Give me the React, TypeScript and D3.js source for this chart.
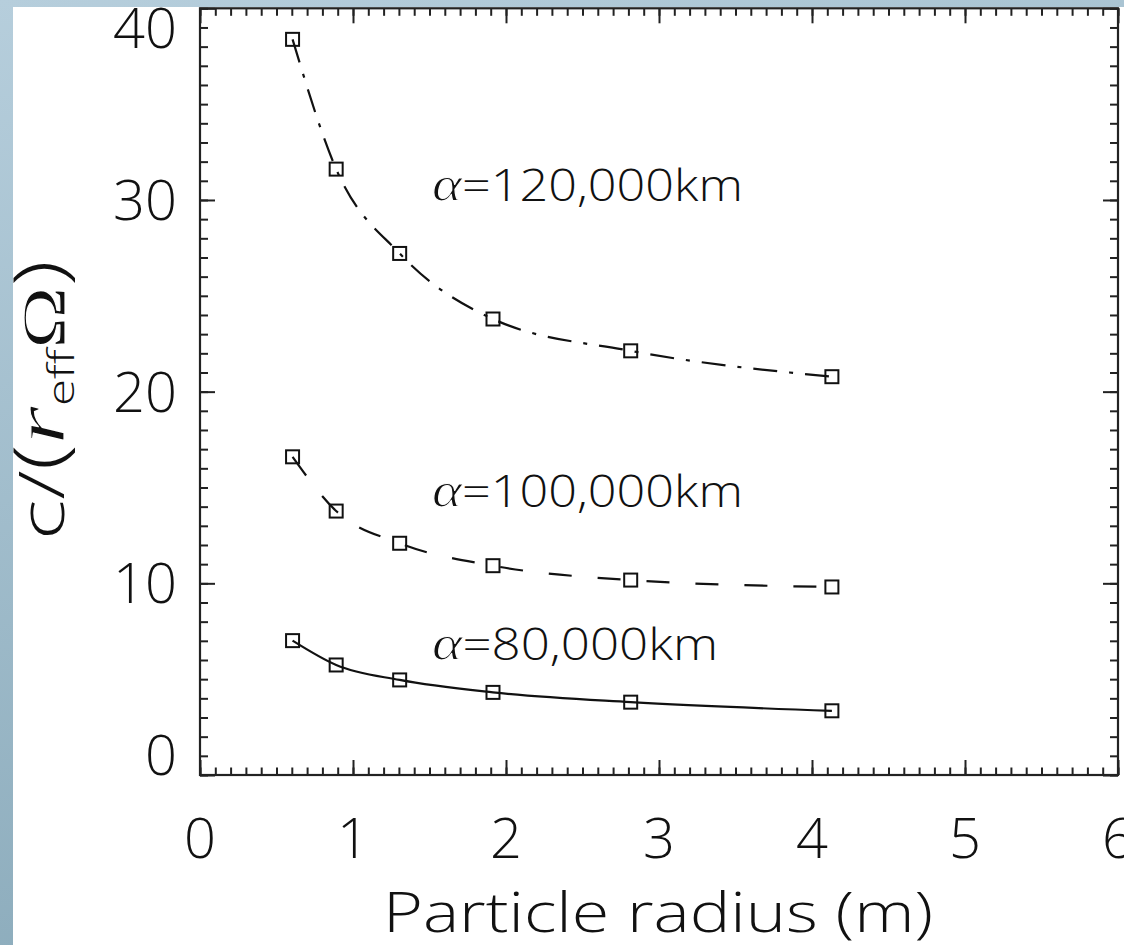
import React, { useEffect, useRef } from "react";
import * as d3 from "d3";

const radius = [0.605, 0.89, 1.305, 1.915, 2.815, 4.13];
const c120 = [38.38, 31.61, 27.21, 23.79, 22.13, 20.78];
const c100 = [16.6, 13.77, 12.09, 10.92, 10.17, 9.81];
const c80 = [7.01, 5.74, 4.96, 4.31, 3.8, 3.35];
const seriesLabels = ["120,000km", "100,000km", "80,000km"];
const xTicks = [0, 1, 2, 3, 4, 5, 6];
const yTicks = [0, 10, 20, 30, 40];

const W = 1124;
const H = 945;

export default function App() {
  const ref = useRef<SVGSVGElement>(null);

  useEffect(() => {
    const svg = d3.select(ref.current);
    svg.selectAll("*").remove();

    const x = d3.scaleLinear().domain([0, 6]).range([200, 1118]);
    const y = d3.scaleLinear().domain([0, 40]).range([775, 8.3]);

    const defs = svg.append("defs");
    const g = defs
      .append("linearGradient")
      .attr("id", "bg")
      .attr("x1", 0)
      .attr("y1", 0)
      .attr("x2", 0.3)
      .attr("y2", 1);
    g.append("stop").attr("offset", 0).attr("stop-color", "#b6cedc");
    g.append("stop").attr("offset", 1).attr("stop-color", "#8babbb");

    svg.append("rect").attr("width", W).attr("height", H).attr("fill", "url(#bg)");
    svg.append("rect").attr("x", 13).attr("y", 7).attr("width", W - 13).attr("height", H - 7).attr("fill", "#fff");

    const axisColor = "#222";
    const minorX = d3.range(0, 61).map((i) => i / 10);
    const minorY = d3.range(0, 41);

    const styleAxis = (sel: any) => {
      sel.select(".domain").remove();
      sel.selectAll("line").attr("stroke", axisColor).attr("stroke-width", 2);
      sel.selectAll("text").remove();
    };

    svg.append("g").attr("transform", `translate(0,${y(0)})`)
      .call(d3.axisBottom(x).tickValues(minorX).tickSize(-7.5).tickFormat(() => "")).call(styleAxis);
    svg.append("g").attr("transform", `translate(0,${y(0)})`)
      .call(d3.axisBottom(x).tickValues(xTicks).tickSize(-15).tickFormat(() => "")).call(styleAxis);
    svg.append("g").attr("transform", `translate(0,${y(40)})`)
      .call(d3.axisTop(x).tickValues(minorX).tickSize(-7.5).tickFormat(() => "")).call(styleAxis);
    svg.append("g").attr("transform", `translate(0,${y(40)})`)
      .call(d3.axisTop(x).tickValues(xTicks).tickSize(-15).tickFormat(() => "")).call(styleAxis);
    svg.append("g").attr("transform", `translate(${x(0)},0)`)
      .call(d3.axisLeft(y).tickValues(minorY).tickSize(-8).tickFormat(() => "")).call(styleAxis);
    svg.append("g").attr("transform", `translate(${x(0)},0)`)
      .call(d3.axisLeft(y).tickValues(yTicks).tickSize(-15).tickFormat(() => "")).call(styleAxis);
    svg.append("g").attr("transform", `translate(${x(6)},0)`)
      .call(d3.axisRight(y).tickValues(minorY).tickSize(-8).tickFormat(() => "")).call(styleAxis);
    svg.append("g").attr("transform", `translate(${x(6)},0)`)
      .call(d3.axisRight(y).tickValues(yTicks).tickSize(-15).tickFormat(() => "")).call(styleAxis);

    svg.append("rect")
      .attr("x", x(0)).attr("y", y(40))
      .attr("width", x(6) - x(0)).attr("height", y(0) - y(40))
      .attr("fill", "none").attr("stroke", axisColor).attr("stroke-width", 2.2);

    const tickFont = "'Open Sans', 'DejaVu Sans', sans-serif";
    const mathFont = "'Liberation Serif', 'DejaVu Serif', serif";

    svg.append("g").selectAll("text").data(xTicks).join("text")
      .attr("x", (d) => x(d))
      .attr("y", 858)
      .attr("text-anchor", "middle")
      .attr("font-family", tickFont)
      .attr("font-weight", 300)
      .attr("font-size", 56)
      .attr("fill", "#111")
      .text((d) => String(d));

    svg.append("g").selectAll("text").data(yTicks).join("text")
      .attr("x", 177)
      .attr("y", (d) => (d === 0 ? y(d) : d === 40 ? y(d) + 40 : y(d) + 20))
      .attr("text-anchor", "end")
      .attr("font-family", tickFont)
      .attr("font-weight", 300)
      .attr("font-size", 56)
      .attr("fill", "#111")
      .text((d) => String(d));

    svg.append("text")
      .attr("x", 658)
      .attr("y", 932)
      .attr("text-anchor", "middle")
      .attr("font-family", tickFont)
      .attr("font-weight", 300)
      .attr("font-size", 56)
      .attr("fill", "#111")
      .attr("textLength", 550)
      .attr("lengthAdjust", "spacingAndGlyphs")
      .text("Particle radius (m)");

    // light white outline trims heavy serif glyphs a little
    const thin = (sel: any) =>
      sel.attr("stroke", "#fff").attr("stroke-width", 1.1).attr("stroke-linejoin", "round");

    const yt = svg.append("text")
      .attr("transform", "translate(64,400) rotate(-90)")
      .attr("text-anchor", "middle")
      .attr("fill", "#111")
      .attr("font-size", 62)
      .attr("textLength", 280)
      .attr("lengthAdjust", "spacingAndGlyphs");
    yt.append("tspan").attr("font-family", tickFont).attr("font-weight", 300).text("c/");
    yt.append("tspan").attr("font-family", tickFont).attr("font-weight", 300).attr("font-size", 70).text("(");
    yt.append("tspan").attr("font-family", mathFont).attr("font-style", "italic").attr("font-size", 72).call(thin).text("r");
    yt.append("tspan").attr("font-family", tickFont).attr("font-weight", 300).attr("font-size", 36).attr("dy", 10).text("eff");
    yt.append("tspan").attr("font-family", mathFont).attr("font-size", 62).attr("dy", -10).call(thin).text("Ω");
    yt.append("tspan").attr("font-family", tickFont).attr("font-weight", 300).attr("font-size", 70).text(")");

    const series = [
      { v: c120, dash: "24,12,4,12", label: seriesLabels[0], ly: 201, len: 311 },
      { v: c100, dash: "23,26", label: seriesLabels[1], ly: 507, len: 311 },
      { v: c80, dash: null, label: seriesLabels[2], ly: 660, len: 286 },
    ];

    const line = d3.line<number>()
      .x((_, i) => x(radius[i]))
      .y((d) => y(d))
      .curve(d3.curveMonotoneX);

    series.forEach((s) => {
      const p = svg.append("path")
        .attr("d", line(s.v))
        .attr("fill", "none")
        .attr("stroke", "#111")
        .attr("stroke-width", 2.2);
      if (s.dash) p.attr("stroke-dasharray", s.dash);

      svg.append("g").selectAll("rect").data(s.v).join("rect")
        .attr("x", (d, i) => x(radius[i]) - 6.5)
        .attr("y", (d) => y(d) - 6.5)
        .attr("width", 13)
        .attr("height", 13)
        .attr("fill", "none")
        .attr("stroke", "#111")
        .attr("stroke-width", 2);

      const t = svg.append("text")
        .attr("x", 432)
        .attr("y", s.ly)
        .attr("fill", "#111")
        .attr("font-size", 44)
        .attr("textLength", s.len)
        .attr("lengthAdjust", "spacingAndGlyphs");
      t.append("tspan").attr("font-family", mathFont).attr("font-style", "italic").attr("font-size", 50).call(thin).text("α");
      t.append("tspan").attr("font-family", tickFont).attr("font-weight", 300).text("=" + s.label);
    });
  }, []);

  return (
    <div style={{ position: "absolute", left: 0, top: 0 }}>
      <svg ref={ref} width={W} height={H} style={{ display: "block" }} />
    </div>
  );
}
